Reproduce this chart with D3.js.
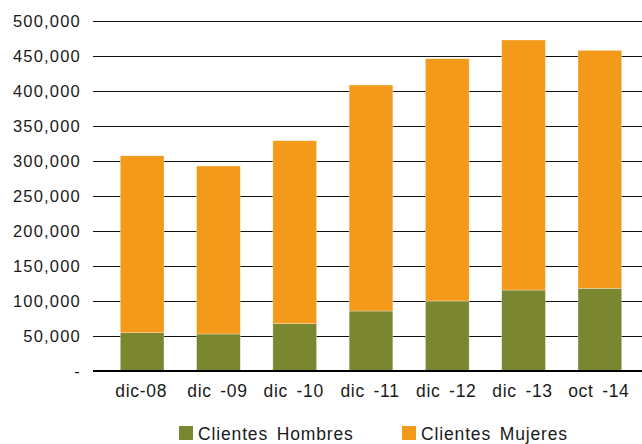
<!DOCTYPE html>
<html><head><meta charset="utf-8">
<script src="https://cdn.jsdelivr.net/npm/d3@7"></script>
<style>body{margin:0;background:#fff}svg{display:block}text{font-family:"Liberation Sans",Arial,sans-serif;fill:#1a1a1a}</style>
</head><body><svg id="c" width="642" height="444"></svg>
<script>
const categories = ["dic-08","dic -09","dic -10","dic -11","dic -12","dic -13","oct -14"];
const hombres = [54600, 52800, 67500, 85600, 99900, 115500, 118000];
const mujeres = [252400, 239600, 261000, 322400, 345600, 356700, 339400];
const seriesNames = ["Clientes Hombres","Clientes Mujeres"];
const seriesColors = ["#7a8630","#f39a1b"];
const yTicks = [0,50000,100000,150000,200000,250000,300000,350000,400000,450000,500000];

const svg = d3.select("#c");
const rows = categories.map((c,i)=>({cat:c, h:hombres[i], m:mujeres[i]}));
const stack = d3.stack().keys(["h","m"])(rows);

const x = d3.scaleBand().domain(categories).range([104,638]).paddingInner(0.427).paddingOuter(0.2135);
const y = d3.scaleLinear().domain([0,500000]).range([371,20.5]);

// y axis labels
const yAxis = d3.axisLeft(y).tickValues(yTicks).tickSize(0).tickPadding(12)
  .tickFormat(d=> d===0 ? "-" : d3.format(",")(d));
const gy = svg.append("g").attr("transform","translate(93,0)").call(yAxis);
gy.select(".domain").remove();
gy.selectAll("text").attr("font-size",16.5).attr("dy","0.35em")
  .style("font-family","Liberation Sans").style("letter-spacing","1.2px");

// grid
svg.append("g").selectAll("line").data(yTicks.filter(d=>d>0)).join("line")
  .attr("x1",93).attr("x2",642).attr("y1",d=>Math.round(y(d))+0.5).attr("y2",d=>Math.round(y(d))+0.5)
  .attr("stroke","#111").attr("stroke-width",1);

// bars
svg.append("g").selectAll("g").data(stack).join("g")
  .attr("fill",(d,i)=>seriesColors[i])
  .selectAll("rect").data(d=>d).join("rect")
  .attr("x",d=>x(d.data.cat)).attr("width",x.bandwidth())
  .attr("y",d=>y(d[1])).attr("height",d=>y(d[0])-y(d[1]))
  .attr("stroke","#fff").attr("stroke-opacity",0.5).attr("stroke-width",0.6);

// baseline
svg.append("line").attr("x1",93).attr("x2",642).attr("y1",371).attr("y2",371)
  .attr("stroke","#000").attr("stroke-width",2);

// x axis
const xAxis = d3.axisBottom(x).tickSize(0).tickPadding(0);
const gx = svg.append("g").attr("transform","translate(0,372)").call(xAxis);
gx.select(".domain").remove();
gx.selectAll("text").attr("font-size",17.5).attr("dy",0).attr("y",25).attr("dx",-1)
  .style("font-family","Liberation Sans").style("letter-spacing","0.7px").style("word-spacing","3px");

// legend
const leg = svg.append("g");
const lx = [179, 402];
seriesNames.forEach((n,i)=>{
  leg.append("rect").attr("x",lx[i]).attr("y",426).attr("width",14).attr("height",14).attr("fill",seriesColors[i]);
  leg.append("text").attr("x",lx[i]+19).attr("y",439.5).attr("font-size",17.5)
    .style("letter-spacing","0.85px").style("word-spacing","3px").text(n);
});
</script></body></html>
